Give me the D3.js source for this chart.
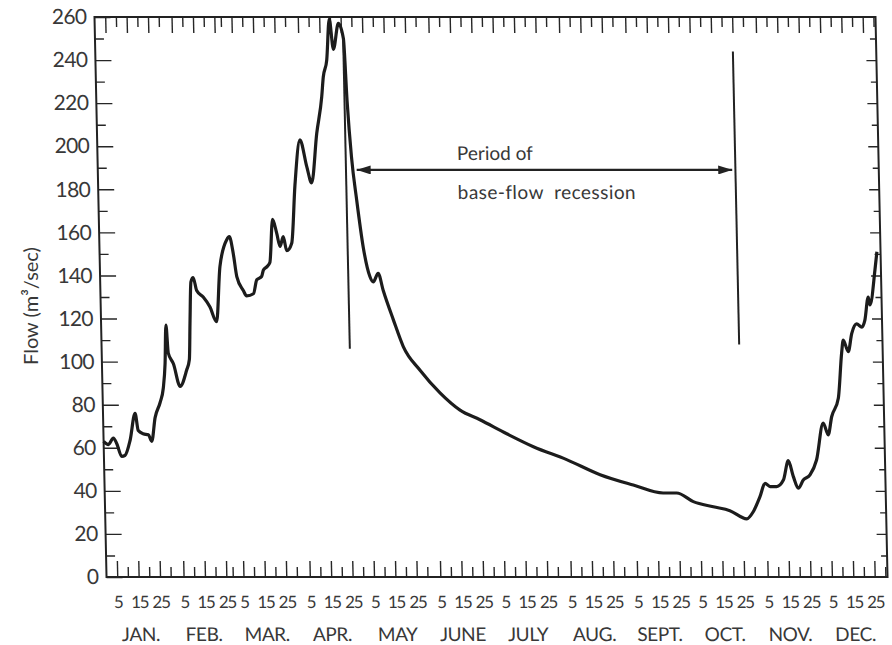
<!DOCTYPE html>
<html>
<head>
<meta charset="utf-8">
<script src="https://cdn.jsdelivr.net/npm/d3@7"></script>
<style>
    body { margin: 0; background: #fff; }
    svg { display: block; }
    text { font-family: Lato, "Open Sans", sans-serif; fill: #383838; }
</style>
</head>
<body>
<div class="chart-container"></div>
<script>
// daily flow (day of year, m3/sec)
var flowDays = [0, 2.2, 4.6, 6.1, 8.3, 9.9, 12.4, 15, 16.3, 18.6, 21, 22.5, 24.3, 26.8, 28.4, 29.5, 30.3, 31.1, 33.4, 36.3,
    39.5, 40.9, 41.6, 42.4, 43.5, 45, 48, 51, 54, 56.1, 59.5, 60.8, 62.5, 63.9, 66.8, 68.3, 71.5, 73.2, 75.5, 76.4,
    78, 79.5, 81.2, 83, 84.4, 86, 87.5, 89.9, 92, 94.8, 97.7, 99.8, 102.7, 105.4, 106.3, 108.1, 109.7, 111.3, 113.9, 116.1,
    117.2, 118.7, 120.7, 123.3, 126.1, 127.6, 130, 132.2, 136.6, 141, 148.6, 157.7, 166.9, 176.1, 188.5, 200.8, 216.2, 231.7, 247.1, 261,
    267.3, 275, 284.3, 292, 299.8, 302.9, 306.2, 308.7, 311, 314.1, 317.3, 319.8, 322, 324.2, 326.6, 329.8, 333, 336.5, 338.7, 340.5,
    343.8, 345.8, 346.7, 348.9, 350.7, 353.1, 355.5, 357, 358.8, 359.5, 362.2, 363.3];
var flowValues = [63, 61.5, 64.5, 62, 56, 56.5, 63.5, 76, 68, 66.5, 66, 63, 74, 81, 87.5, 99, 117, 104, 99, 88.5,
    96, 101, 119, 137, 139, 133, 130, 125.5, 118.5, 144, 156.5, 158, 150, 139.5, 133, 130.5, 131.5, 138, 139.5, 142.5,
    144, 146, 166, 159.5, 153.5, 158, 151.5, 155, 182, 203, 190.5, 183, 206, 223, 232, 240, 259, 245, 257, 250,
    221, 195, 175, 153, 139.5, 137, 141, 133, 119.5, 107, 96, 85.5, 77.5, 73, 66.5, 60.5, 54.5, 47.5, 42.7, 39,
    39, 35, 32.6, 30.8, 27, 30.3, 37.3, 43.5, 42, 42, 45, 54, 46.6, 41.2, 45, 47.4, 54.3, 71.5, 66, 74.4,
    83, 104, 110, 104.6, 113, 117.5, 116, 119.3, 130, 126.3, 142.5, 151];

var monthNames = ["JAN.", "FEB.", "MAR.", "APR.", "MAY", "JUNE", "JULY", "AUG.", "SEPT.", "OCT.", "NOV.", "DEC."];
var monthStarts = [0, 31, 59, 90, 120, 151, 181, 212, 243, 273, 304, 334];
var monthLengths = [31, 28, 31, 30, 31, 30, 31, 31, 30, 31, 30, 31];
var labelDaysOfMonth = [5, 15, 25];
var minorDaysOfMonth = [10, 20, 30];
var yTicks = [0, 20, 40, 60, 80, 100, 120, 140, 160, 180, 200, 220, 240, 260];
var yMinorTicks = [10, 30, 50, 70, 90, 110, 130, 150, 170, 190, 210, 230, 250];

// base-flow recession markers
var recessionStart = 116, recessionEnd = 298;
var markerTop = [250, 244], markerBottom = [106, 108];
var arrowFrom = 121, arrowTo = 296.5, arrowLevel = 189;

function initialize()
{
    var width = 892, height = 645;
    var innerW = 781, innerH = 560;

    var x = d3.scaleLinear().domain([0, 365]).range([0, innerW]);
    var y = d3.scaleLinear().domain([0, 260]).range([innerH, 0]);

    var svg = d3.select(".chart-container")
            .append("svg")
            .attr("width", width)
            .attr("height", height);

    // the printed figure is slightly sheared in the scan
    var g = svg.append("g")
            .attr("transform", "translate(94.5,17) skewX(1.23)");

    var labelDays = [], minorDays = [];
    monthStarts.forEach(function (s, m) {
        labelDaysOfMonth.forEach(function (d) { labelDays.push(s + d); });
        minorDaysOfMonth.forEach(function (d) { minorDays.push(s + Math.min(d, monthLengths[m])); });
    });

    function styleAxis(sel) {
        sel.select(".domain").remove();
        sel.attr("color", "#262626");
        sel.selectAll("line").attr("stroke-width", 1.4);
    }

    // bottom axis with day labels
    g.append("g")
            .attr("transform", "translate(0," + innerH + ")")
            .call(d3.axisBottom(x).tickValues(labelDays).tickSize(-16).tickPadding(19)
                    .tickFormat(function (d, i) { return labelDaysOfMonth[i % 3]; }))
            .call(styleAxis)
            .selectAll("text")
            .style("font-size", "17px")
            .style("letter-spacing", "-1.3px");

    g.append("g")
            .attr("transform", "translate(0," + innerH + ")")
            .call(d3.axisBottom(x).tickValues(minorDays).tickSize(-10).tickFormat(""))
            .call(styleAxis);

    // top axis mirrors the bottom ticks
    g.append("g")
            .call(d3.axisTop(x).tickValues(labelDays).tickSize(-16).tickFormat(""))
            .call(styleAxis);
    g.append("g")
            .call(d3.axisTop(x).tickValues(minorDays).tickSize(-10).tickFormat(""))
            .call(styleAxis);

    // left axis
    g.append("g")
            .call(d3.axisLeft(y).tickValues(yTicks).tickSize(-16).tickPadding(8))
            .call(styleAxis)
            .selectAll("text")
            .style("font-size", "21px")
            .style("letter-spacing", "-0.6px");
    g.append("g")
            .call(d3.axisLeft(y).tickValues(yMinorTicks).tickSize(-9).tickFormat(""))
            .call(styleAxis);

    // right axis
    g.append("g")
            .attr("transform", "translate(" + innerW + ",0)")
            .call(d3.axisRight(y).tickValues(yTicks.slice(1, -1)).tickSize(-10).tickFormat(""))
            .call(styleAxis);
    g.append("g")
            .attr("transform", "translate(" + innerW + ",0)")
            .call(d3.axisRight(y).tickValues(yMinorTicks).tickSize(-6).tickFormat(""))
            .call(styleAxis);

    g.append("rect")
            .attr("width", innerW)
            .attr("height", innerH)
            .attr("fill", "none")
            .attr("stroke", "#222")
            .attr("stroke-width", 2);

    // month names
    g.selectAll(".month")
            .data(monthNames)
            .enter()
            .append("text")
            .attr("class", "month")
            .attr("x", function (d, i) { return x(monthStarts[i] + monthLengths[i] / 2); })
            .attr("y", innerH + 64.5)
            .attr("text-anchor", "middle")
            .style("font-size", "19px")
            .style("letter-spacing", "-0.4px")
            .text(function (d) { return d; });

    // hydrograph
    var points = flowDays.map(function (d, i) { return [d, flowValues[i]]; });
    var line = d3.line()
            .x(function (d) { return x(d[0]); })
            .y(function (d) { return y(d[1]); })
            .curve(d3.curveMonotoneX);

    g.append("path")
            .datum(points)
            .attr("d", line)
            .attr("fill", "none")
            .attr("stroke", "#1c1c1c")
            .attr("stroke-width", 3.2)
            .attr("stroke-linejoin", "round");

    // recession period markers
    [recessionStart, recessionEnd].forEach(function (d, i) {
        g.append("line")
                .attr("x1", x(d)).attr("x2", x(d))
                .attr("y1", y(markerTop[i])).attr("y2", y(markerBottom[i]))
                .attr("stroke", "#222")
                .attr("stroke-width", 2);
    });

    var defs = svg.append("defs");
    defs.append("marker")
            .attr("id", "head-end")
            .attr("viewBox", "0 0 14 9")
            .attr("refX", 14).attr("refY", 4.5)
            .attr("markerWidth", 14).attr("markerHeight", 9)
            .attr("markerUnits", "userSpaceOnUse")
            .attr("orient", "auto")
            .append("path")
            .attr("d", "M0,0L14,4.5L0,9Z")
            .attr("fill", "#222");
    defs.append("marker")
            .attr("id", "head-start")
            .attr("viewBox", "0 0 14 9")
            .attr("refX", 0).attr("refY", 4.5)
            .attr("markerWidth", 14).attr("markerHeight", 9)
            .attr("markerUnits", "userSpaceOnUse")
            .attr("orient", "auto")
            .append("path")
            .attr("d", "M14,0L0,4.5L14,9Z")
            .attr("fill", "#222");

    g.append("line")
            .attr("x1", x(arrowFrom)).attr("x2", x(arrowTo))
            .attr("y1", y(arrowLevel)).attr("y2", y(arrowLevel))
            .attr("stroke", "#222")
            .attr("stroke-width", 2.2)
            .attr("marker-start", "url(#head-start)")
            .attr("marker-end", "url(#head-end)");

    g.append("text")
            .attr("x", x(168)).attr("y", y(193.6))
            .style("font-size", "19px")
            .text("Period of");
    g.append("text")
            .attr("x", x(168)).attr("y", y(175.5))
            .style("font-size", "19px")
            .style("letter-spacing", "0.45px")
            .style("white-space", "pre")
            .text("base-flow  recession");

    svg.append("text")
            .attr("transform", "translate(37.5,306) rotate(-90)")
            .attr("text-anchor", "middle")
            .style("font-size", "20px")
            .text("Flow (m\u00b3/sec)");
}

initialize();
</script>
</body>
</html>
